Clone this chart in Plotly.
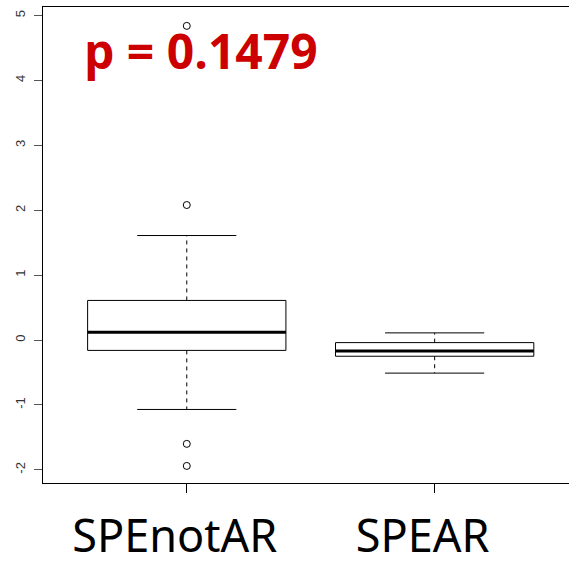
import plotly.graph_objects as go

groups = ["SPEnotAR", "SPEAR"]
q1 = [-0.16, -0.25]
median = [0.12, -0.17]
q3 = [0.61, -0.04]
whisk_lo = [-1.07, -0.51]
whisk_hi = [1.61, 0.11]
outliers = [[4.84, 2.08, -1.60, -1.94], []]
p_text = "p = 0.1479"

y_ticks = [-2, -1, 0, 1, 2, 3, 4, 5]

box_half = 0.4
cap_half = 0.2

fig = go.Figure()
for i, g in enumerate(groups):
    xc = i + 1
    # box
    fig.add_trace(go.Scatter(
        x=[xc - box_half, xc + box_half, xc + box_half, xc - box_half, xc - box_half],
        y=[q1[i], q1[i], q3[i], q3[i], q1[i]],
        mode="lines", line=dict(color="black", width=1), hoverinfo="skip"))
    # median
    fig.add_trace(go.Scatter(
        x=[xc - box_half, xc + box_half], y=[median[i], median[i]],
        mode="lines", line=dict(color="black", width=3), hoverinfo="skip"))
    # whiskers (dashed)
    fig.add_trace(go.Scatter(
        x=[xc, xc, None, xc, xc], y=[q3[i], whisk_hi[i], None, q1[i], whisk_lo[i]],
        mode="lines", line=dict(color="black", width=1, dash="4px,4px"), hoverinfo="skip"))
    # caps
    fig.add_trace(go.Scatter(
        x=[xc - cap_half, xc + cap_half, None, xc - cap_half, xc + cap_half],
        y=[whisk_hi[i], whisk_hi[i], None, whisk_lo[i], whisk_lo[i]],
        mode="lines", line=dict(color="black", width=1), hoverinfo="skip"))
    # outliers
    if outliers[i]:
        fig.add_trace(go.Scatter(
            x=[xc] * len(outliers[i]), y=outliers[i], mode="markers",
            marker=dict(symbol="circle-open", size=7, color="black", line=dict(width=1)),
            hoverinfo="skip"))

fig.add_annotation(
    text="<b>" + p_text + "</b>", xref="paper", yref="paper",
    x=(82 - 43) / 526, y=1 - (50 - 7) / 476, xanchor="left", yanchor="middle",
    showarrow=False, font=dict(family="Open Sans", size=48, color="#cc0000"))

fig.update_layout(
    width=569, height=561,
    margin=dict(l=43, r=0, t=7, b=78),
    paper_bgcolor="white", plot_bgcolor="white",
    showlegend=False,
    xaxis=dict(
        range=[0.42, 2.542], showgrid=False, zeroline=False, automargin=False,
        showline=True, mirror=True, linecolor="black", linewidth=1,
        tickmode="array", tickvals=[1, 2], ticktext=groups,
        ticks="outside", ticklen=9, tickcolor="black", tickwidth=1,
        ticklabelshift=-12, ticklabelstandoff=5,
        tickfont=dict(family="Noto Sans", size=45, color="black")),
    yaxis=dict(
        range=[-2.203, 5.131], showgrid=False, zeroline=False, automargin=False,
        showline=True, mirror=False, linecolor="black", linewidth=1,
        tickmode="array", tickvals=y_ticks, ticktext=[str(t) for t in y_ticks],
        ticks="outside", ticklen=8, tickcolor="#555555", tickwidth=1,
        tickangle=-90, ticklabelstandoff=4,
        tickfont=dict(family="Liberation Sans", size=13, color="#333333")),
)

fig.write_html(
    "out.html",
    config={"displayModeBar": False},
    post_script="document.body.style.margin='0';document.body.style.overflow='hidden';")
